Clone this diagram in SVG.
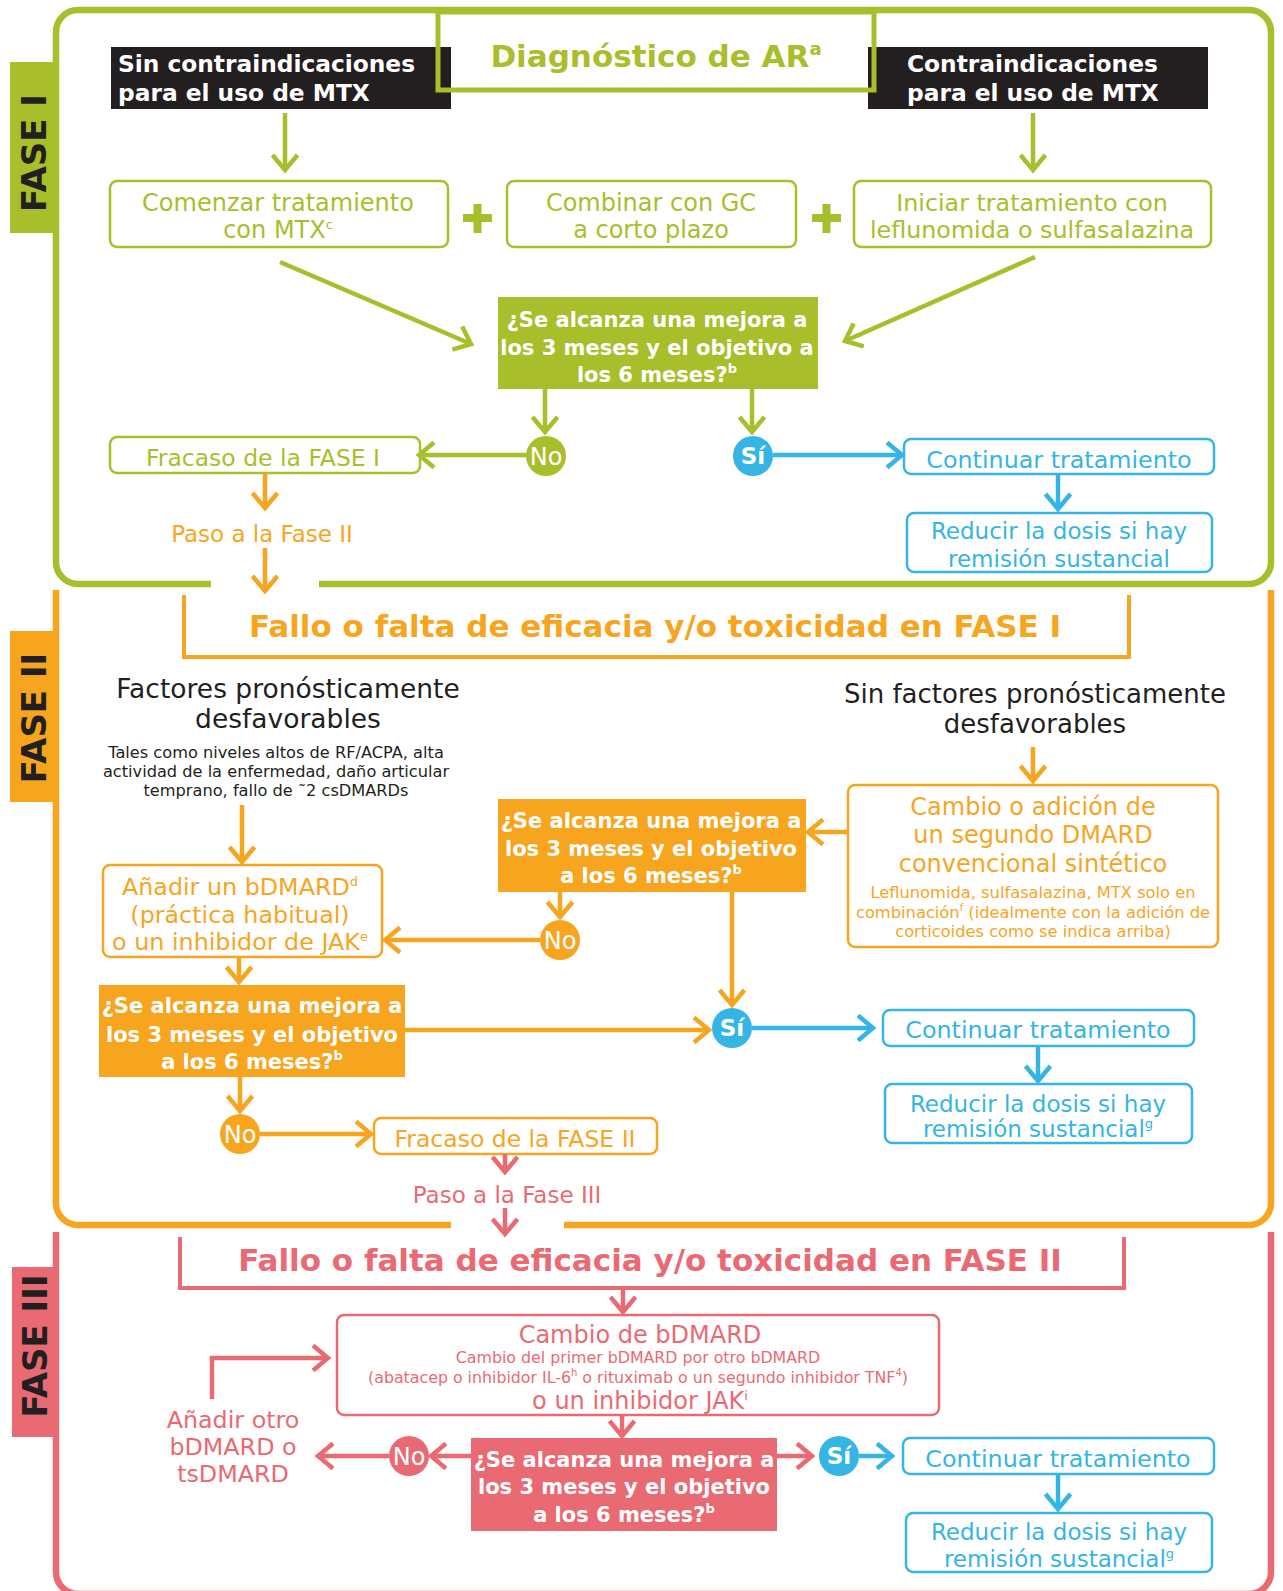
<svg xmlns="http://www.w3.org/2000/svg" width="1283" height="1591" viewBox="0 0 1283 1591">
<defs>
<style>
text{font-family:"DejaVu Sans","Liberation Sans",sans-serif}
.c{text-anchor:middle}
.b{font-weight:bold}
.gT{fill:#A9BE2B}.oT{fill:#F7A51F}.pT{fill:#E96A72}.bT{fill:#35B4E6}.wT{fill:#fff}.kT{fill:#231F20}
.box{fill:#fff;stroke-width:2.5}
.gS{stroke:#A9BE2B}.oS{stroke:#F7A51F}.pS{stroke:#E96A72}.bS{stroke:#35B4E6}
.gF{fill:#A9BE2B}.oF{fill:#F7A51F}.pF{fill:#E96A72}.bF{fill:#35B4E6}.kF{fill:#231F20}
.cn{fill:none;stroke-width:4.5}
.brd{fill:none;stroke-width:6.5}
.brk{fill:none;stroke-width:4}
.tab{font-size:34px;font-weight:bold;fill:#231F20;text-anchor:middle}
.dec{font-size:21px;font-weight:bold;fill:#fff;text-anchor:middle}
.t23{font-size:23px}.t235{font-size:23.8px}.t24{font-size:24px}.t16{font-size:16.2px}
.big{font-size:31px;font-weight:bold;text-anchor:middle}
.no{font-size:24px;fill:#fff;text-anchor:middle}
.si{font-size:23px;font-weight:bold;fill:#fff;text-anchor:middle}
</style>
<marker id="aG" markerUnits="userSpaceOnUse" markerWidth="40" markerHeight="40" viewBox="-20 -20 40 40" refX="0" refY="0" orient="auto" overflow="visible"><path d="M-15,-12.5 L0,0 L-15,12.5" fill="none" stroke="#A9BE2B" stroke-width="4.5"/></marker>
<marker id="aO" markerUnits="userSpaceOnUse" markerWidth="40" markerHeight="40" viewBox="-20 -20 40 40" refX="0" refY="0" orient="auto" overflow="visible"><path d="M-15,-12.5 L0,0 L-15,12.5" fill="none" stroke="#F7A51F" stroke-width="4.5"/></marker>
<marker id="aP" markerUnits="userSpaceOnUse" markerWidth="40" markerHeight="40" viewBox="-20 -20 40 40" refX="0" refY="0" orient="auto" overflow="visible"><path d="M-15,-12.5 L0,0 L-15,12.5" fill="none" stroke="#E96A72" stroke-width="4.5"/></marker>
<marker id="aB" markerUnits="userSpaceOnUse" markerWidth="40" markerHeight="40" viewBox="-20 -20 40 40" refX="0" refY="0" orient="auto" overflow="visible"><path d="M-15,-12.5 L0,0 L-15,12.5" fill="none" stroke="#35B4E6" stroke-width="4.5"/></marker>
</defs>
<rect width="1283" height="1591" fill="#fff"/>

<!-- Tabs -->
<g id="tab-fase1"><rect x="10" y="62" width="44" height="171" class="gF"/><text class="tab" transform="translate(46,153) rotate(-90)">FASE I</text></g>
<g id="tab-fase2"><rect x="10" y="631" width="44" height="171" class="oF"/><text class="tab" transform="translate(46,718) rotate(-90)">FASE II</text></g>
<g id="tab-fase3"><rect x="12" y="1267" width="42" height="170" class="pF"/><text class="tab" transform="translate(47,1346) rotate(-90)">FASE III</text></g>

<!-- Borders -->
<g id="borders">
<path class="brd gS" d="M211,584 H78 A22,22 0 0 1 56,562 V32 A22,22 0 0 1 78,10 H1249 A22,22 0 0 1 1271,32 V562 A22,22 0 0 1 1249,584 H319"/>
<path class="brd oS" d="M56,590 V1203 A22,22 0 0 0 78,1225 H451 M564,1225 H1249 A22,22 0 0 0 1271,1203 V590"/>
<path class="brd pS" d="M56,1232 V1572 A22,22 0 0 0 78,1594 H1249 A22,22 0 0 0 1271,1572 V1232"/>
</g>

<!-- PHASE I -->
<g id="title">
<rect x="438" y="12" width="436" height="78" fill="#fff"/>
</g>
<g id="sin-contra"><rect x="111" y="47" width="340" height="62" class="kF"/>
<text class="b wT" font-size="23.3"><tspan x="118" y="72">Sin contraindicaciones</tspan><tspan x="118" y="101">para el uso de MTX</tspan></text></g>
<g id="contra"><rect x="868" y="47" width="340" height="62" class="kF"/>
<text class="b wT" font-size="23.3"><tspan x="907" y="72">Contraindicaciones</tspan><tspan x="907" y="101">para el uso de MTX</tspan></text></g>
<g id="title-frame">
<rect x="438" y="12" width="436" height="78" fill="none" class="gS" stroke-width="5"/>
<text x="656" y="67" class="big gT">Diagnóstico de AR<tspan font-size="18" dy="-12">a</tspan></text>
</g>

<g id="mtx"><rect x="110" y="181" width="338" height="66" rx="7" class="box gS"/>
<text class="c gT" font-size="24"><tspan x="278" y="211">Comenzar tratamiento</tspan><tspan x="278" y="238">con MTX<tspan font-size="13" dy="-9">c</tspan></tspan></text></g>
<g id="plus1"><rect x="463" y="214" width="29" height="8" class="gF"/><rect x="473.5" y="204" width="8" height="29" class="gF"/></g>
<g id="gc"><rect x="507" y="181" width="289" height="66" rx="7" class="box gS"/>
<text class="c gT" font-size="24"><tspan x="651" y="211">Combinar con GC</tspan><tspan x="651" y="238">a corto plazo</tspan></text></g>
<g id="plus2"><rect x="812" y="214" width="29" height="8" class="gF"/><rect x="822.5" y="204" width="8" height="29" class="gF"/></g>
<g id="lef"><rect x="854" y="181" width="357" height="66" rx="7" class="box gS"/>
<text class="c gT" font-size="23.8"><tspan x="1032" y="211">Iniciar tratamiento con</tspan><tspan x="1032" y="238">leflunomida o sulfasalazina</tspan></text></g>

<g id="dec1"><rect x="498" y="297" width="320" height="92" class="gF"/>
<text class="dec"><tspan x="657" y="327">¿Se alcanza una mejora a</tspan><tspan x="657" y="355">los 3 meses y el objetivo a</tspan><tspan x="657" y="382">los 6 meses?<tspan font-size="13" dy="-9">b</tspan></tspan></text></g>
<g id="no1"><circle cx="546" cy="456" r="20" class="gF"/><text x="546" y="465" class="no">No</text></g>
<g id="si1"><circle cx="753" cy="456" r="20" class="bF"/><text x="753" y="464" class="si">Sí</text></g>
<g id="fracaso1"><rect x="110" y="437" width="310" height="36" rx="7" class="box gS"/><text x="263" y="466" class="c gT" font-size="23.5">Fracaso de la FASE I</text></g>
<g id="paso2"><text x="262" y="542" class="c oT" font-size="23">Paso a la Fase II</text></g>
<g id="cont1"><rect x="904" y="439" width="310" height="35" rx="7" class="box bS"/><text x="1059" y="468" class="c bT t235">Continuar tratamiento</text></g>
<g id="red1"><rect x="907" y="513" width="305" height="59" rx="7" class="box bS"/>
<text class="c bT t23"><tspan x="1059" y="539">Reducir la dosis si hay</tspan><tspan x="1059" y="567">remisión sustancial</tspan></text></g>

<!-- PHASE II -->
<g id="fallo1"><path class="brk oS" d="M184,595 V657 H1129 V595"/>
<text x="655" y="637" class="big oT">Fallo o falta de eficacia y/o toxicidad en FASE I</text></g>
<g id="factores"><text class="c kT" font-size="26.5"><tspan x="288" y="698">Factores pronósticamente</tspan><tspan x="288" y="728">desfavorables</tspan></text>
<text class="c kT t16"><tspan x="276" y="758">Tales como niveles altos de RF/ACPA, alta</tspan><tspan x="276" y="777">actividad de la enfermedad, daño articular</tspan><tspan x="276" y="796">temprano, fallo de ˜2 csDMARDs</tspan></text></g>
<g id="sinfactores"><text class="c kT" font-size="26"><tspan x="1035" y="703">Sin factores pronósticamente</tspan><tspan x="1035" y="733">desfavorables</tspan></text></g>
<g id="cambio1"><rect x="848" y="785" width="370" height="162" rx="7" class="box oS"/>
<text class="c oT t24"><tspan x="1033" y="815">Cambio o adición de</tspan><tspan x="1033" y="843">un segundo DMARD</tspan><tspan x="1033" y="872">convencional sintético</tspan></text>
<text class="c oT" font-size="16.3"><tspan x="1033" y="898">Leflunomida, sulfasalazina, MTX solo en</tspan><tspan x="1033" y="918">combinación<tspan font-size="10" dy="-7">f</tspan><tspan dy="7"> (idealmente con la adición de</tspan></tspan><tspan x="1033" y="937">corticoides como se indica arriba)</tspan></text></g>
<g id="dec2"><rect x="498" y="799" width="308" height="93" class="oF"/>
<text class="dec"><tspan x="651" y="828">¿Se alcanza una mejora a</tspan><tspan x="651" y="856">los 3 meses y el objetivo</tspan><tspan x="651" y="883">a los 6 meses?<tspan font-size="13" dy="-9">b</tspan></tspan></text></g>
<g id="no2"><circle cx="560" cy="940" r="20" class="oF"/><text x="560" y="949" class="no">No</text></g>
<g id="anadir"><rect x="103" y="865" width="279" height="92" rx="7" class="box oS"/>
<text class="c oT" font-size="23.8"><tspan x="240" y="895">Añadir un bDMARD<tspan font-size="13" dy="-9">d</tspan></tspan><tspan x="240" y="923">(práctica habitual)</tspan><tspan x="240" y="950">o un inhibidor de JAK<tspan font-size="13" dy="-9">e</tspan></tspan></text></g>
<g id="dec3"><rect x="99" y="985" width="306" height="92" class="oF"/>
<text class="dec"><tspan x="252" y="1013">¿Se alcanza una mejora a</tspan><tspan x="252" y="1042">los 3 meses y el objetivo</tspan><tspan x="252" y="1069">a los 6 meses?<tspan font-size="13" dy="-9">b</tspan></tspan></text></g>
<g id="si2"><circle cx="732" cy="1028" r="20" class="bF"/><text x="732" y="1036" class="si">Sí</text></g>
<g id="cont2"><rect x="883" y="1010" width="311" height="36" rx="7" class="box bS"/><text x="1038" y="1038" class="c bT t235">Continuar tratamiento</text></g>
<g id="red2"><rect x="885" y="1084" width="307" height="59" rx="7" class="box bS"/>
<text class="c bT t23"><tspan x="1038" y="1112">Reducir la dosis si hay</tspan><tspan x="1038" y="1137">remisión sustancial<tspan font-size="13" dy="-9">g</tspan></tspan></text></g>
<g id="no3"><circle cx="240" cy="1134" r="20" class="oF"/><text x="240" y="1143" class="no">No</text></g>
<g id="fracaso2"><rect x="374" y="1118" width="283" height="36" rx="7" class="box oS"/><text x="515" y="1147" class="c oT" font-size="23.5">Fracaso de la FASE II</text></g>
<g id="paso3"><text x="507" y="1203" class="c pT t23">Paso a la Fase III</text></g>

<!-- PHASE III -->
<g id="fallo2"><path class="brk pS" d="M180,1237 V1288 H1124 V1237"/>
<text x="650" y="1271" class="big pT">Fallo o falta de eficacia y/o toxicidad en FASE II</text></g>
<g id="cambio2"><rect x="337" y="1315" width="602" height="100" rx="7" class="box pS"/>
<text x="640" y="1343" class="c pT t24">Cambio de bDMARD</text>
<text class="c pT" font-size="15.8"><tspan x="638" y="1363">Cambio del primer bDMARD por otro bDMARD</tspan><tspan x="638" y="1383">(abatacep o inhibidor IL-6<tspan font-size="10" dy="-7">h</tspan><tspan dy="7"> o rituximab o un segundo inhibidor TNF</tspan><tspan font-size="10" dy="-7">4</tspan><tspan dy="7">)</tspan></tspan></text>
<text x="640" y="1409" class="c pT t24">o un inhibidor JAK<tspan font-size="13" dy="-9">i</tspan></text></g>
<g id="dec4"><rect x="471" y="1438" width="306" height="93" class="pF"/>
<text class="dec"><tspan x="624" y="1467">¿Se alcanza una mejora a</tspan><tspan x="624" y="1494">los 3 meses y el objetivo</tspan><tspan x="624" y="1522">a los 6 meses?<tspan font-size="13" dy="-9">b</tspan></tspan></text></g>
<g id="no4"><circle cx="409" cy="1456" r="20" class="pF"/><text x="409" y="1465" class="no">No</text></g>
<g id="anadir2"><text class="c pT t235"><tspan x="233" y="1428">Añadir otro</tspan><tspan x="233" y="1455">bDMARD o</tspan><tspan x="233" y="1482">tsDMARD</tspan></text></g>
<g id="si3"><circle cx="839" cy="1456" r="20" class="bF"/><text x="839" y="1464" class="si">Sí</text></g>
<g id="cont3"><rect x="903" y="1438" width="311" height="36" rx="7" class="box bS"/><text x="1058" y="1467" class="c bT t235">Continuar tratamiento</text></g>
<g id="red3"><rect x="906" y="1513" width="306" height="59" rx="7" class="box bS"/>
<text class="c bT t23"><tspan x="1059" y="1540">Reducir la dosis si hay</tspan><tspan x="1059" y="1567">remisión sustancial<tspan font-size="13" dy="-9">g</tspan></tspan></text></g>

<!-- Connectors -->
<g id="connectors">
<path class="cn gS" marker-end="url(#aG)" d="M285,113 V170"/>
<path class="cn gS" marker-end="url(#aG)" d="M1033,113 V170"/>
<path class="cn gS" marker-end="url(#aG)" d="M280,262 L471,344"/>
<path class="cn gS" marker-end="url(#aG)" d="M1035,257 L845,341"/>
<path class="cn gS" marker-end="url(#aG)" d="M545,389 V432"/>
<path class="cn gS" marker-end="url(#aG)" d="M752,389 V432"/>
<path class="cn gS" marker-end="url(#aG)" d="M526,455 H419"/>
<path class="cn bS" marker-end="url(#aB)" d="M773,455 H902"/>
<path class="cn bS" marker-end="url(#aB)" d="M1058,474 V509"/>
<path class="cn oS" marker-end="url(#aO)" d="M265,473 V508"/>
<path class="cn oS" marker-end="url(#aO)" d="M265,548 V591"/>
<path class="cn oS" marker-end="url(#aO)" d="M1033,747 V781"/>
<path class="cn oS" marker-end="url(#aO)" d="M848,832 H808"/>
<path class="cn oS" marker-end="url(#aO)" d="M560,892 V917"/>
<path class="cn oS" marker-end="url(#aO)" d="M732,892 V1005"/>
<path class="cn oS" marker-end="url(#aO)" d="M540,940 H385"/>
<path class="cn oS" marker-end="url(#aO)" d="M242,805 V862"/>
<path class="cn oS" marker-end="url(#aO)" d="M239,957 V982"/>
<path class="cn oS" marker-end="url(#aO)" d="M405,1030 H709"/>
<path class="cn bS" marker-end="url(#aB)" d="M752,1028 H873"/>
<path class="cn bS" marker-end="url(#aB)" d="M1038,1046 V1081"/>
<path class="cn oS" marker-end="url(#aO)" d="M240,1077 V1111"/>
<path class="cn oS" marker-end="url(#aO)" d="M260,1134 H371"/>
<path class="cn pS" marker-end="url(#aP)" d="M505,1154 V1172"/>
<path class="cn pS" marker-end="url(#aP)" d="M505,1208 V1234"/>
<path class="cn pS" marker-end="url(#aP)" d="M623,1288 V1312"/>
<path class="cn pS" marker-end="url(#aP)" d="M622,1415 V1436"/>
<path class="cn pS" marker-end="url(#aP)" d="M471,1456 H431"/>
<path class="cn pS" marker-end="url(#aP)" d="M389,1456 H318"/>
<path class="cn pS" marker-end="url(#aP)" d="M212,1399 V1358 H328"/>
<path class="cn pS" marker-end="url(#aP)" d="M777,1456 H812"/>
<path class="cn bS" marker-end="url(#aB)" d="M859,1456 H892"/>
<path class="cn bS" marker-end="url(#aB)" d="M1058,1474 V1509"/>
</g>
</svg>
